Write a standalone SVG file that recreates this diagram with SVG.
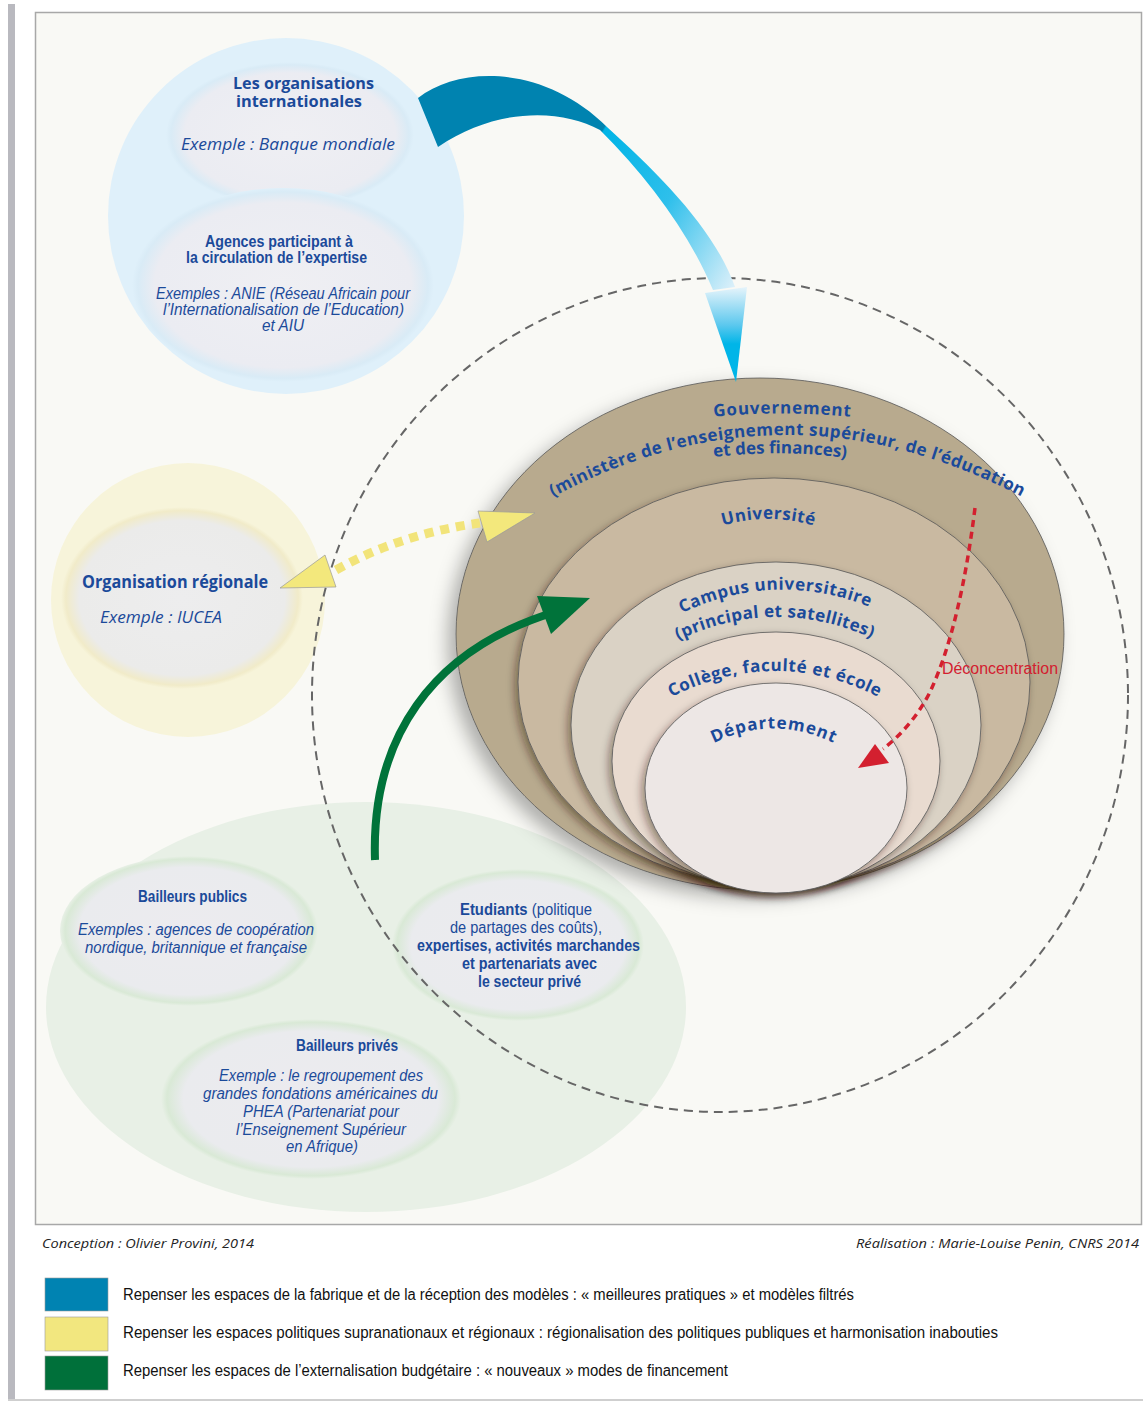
<svg xmlns="http://www.w3.org/2000/svg" width="1143" height="1403" viewBox="0 0 1143 1403">
<defs>
<style>
.lb{font-family:"Open Sans","Liberation Sans",sans-serif;font-weight:bold;fill:#1b4a9a}
.li{font-family:"Open Sans","Liberation Sans",sans-serif;font-style:italic;fill:#1b4a9a}
.cb{font-family:"Liberation Sans",Arial,sans-serif;font-weight:bold;fill:#1b4a9a;font-size:16px}
.ci{font-family:"Liberation Sans",Arial,sans-serif;font-style:italic;fill:#1b4a9a;font-size:16px}
.cr{font-family:"Liberation Sans",Arial,sans-serif;fill:#1b4a9a;font-size:16px}
.arc{font-family:"Open Sans","Liberation Sans",sans-serif;font-weight:bold;fill:#1b4a9a;font-size:17px}
.leg{font-family:"Liberation Sans",Arial,sans-serif;font-size:16px;fill:#111}
.foot{font-family:"Open Sans","Liberation Sans",sans-serif;font-style:italic;font-size:13px;fill:#222}
.bowl{stroke:#555;stroke-width:0.8}
</style>
<radialGradient id="gBlueIn" cx="50%" cy="50%" r="50%">
<stop offset="0" stop-color="#efeff3"/><stop offset="0.85" stop-color="#ebecf2"/><stop offset="0.96" stop-color="#d9ebf6"/><stop offset="1" stop-color="#dff0fa"/>
</radialGradient>
<radialGradient id="gYelIn" cx="50%" cy="50%" r="50%">
<stop offset="0" stop-color="#ededee"/><stop offset="0.85" stop-color="#ebebea"/><stop offset="0.96" stop-color="#f1ebc9"/><stop offset="1" stop-color="#f7f4da"/>
</radialGradient>
<radialGradient id="gGrnIn" cx="50%" cy="50%" r="50%">
<stop offset="0" stop-color="#ecebef"/><stop offset="0.85" stop-color="#eaebee"/><stop offset="0.96" stop-color="#d9e9d6"/><stop offset="1" stop-color="#e8f0e6"/>
</radialGradient>
<linearGradient id="gRibbon" gradientUnits="userSpaceOnUse" x1="418" y1="98" x2="735" y2="290">
<stop offset="0" stop-color="#0083b0"/><stop offset="0.47" stop-color="#0083b0"/><stop offset="0.475" stop-color="#00b4e6"/><stop offset="0.72" stop-color="#2ebfeb"/><stop offset="1" stop-color="#e0f1fa"/>
</linearGradient>
<linearGradient id="gHead" gradientUnits="userSpaceOnUse" x1="0" y1="287" x2="0" y2="382">
<stop offset="0" stop-color="#e6f4fb"/><stop offset="0.4" stop-color="#5cc8ee"/><stop offset="0.6" stop-color="#00b5e8"/><stop offset="1" stop-color="#00b5e8"/>
</linearGradient>
<filter id="shOuter" x="-20%" y="-20%" width="140%" height="150%">
<feDropShadow dx="-8" dy="8" stdDeviation="9" flood-color="#000" flood-opacity="0.3"/>
</filter>
<filter id="shIn" x="-20%" y="-20%" width="140%" height="150%">
<feDropShadow dx="-3" dy="4" stdDeviation="4" flood-color="#2a1e10" flood-opacity="0.45"/>
</filter>
<path id="pGouv" d="M680,421 Q782,406 885,421"/>
<path id="pMin" d="M540,504 Q785,366 1035,504"/>
<path id="pFin" d="M700,459 Q780,447 860,460"/>
<path id="pUniv" d="M715,528 Q768,510 822,528"/>
<path id="pCamp1" d="M668,620 Q775,563 884,613"/>
<path id="pCamp2" d="M670,644 Q775,591 880,642"/>
<path id="pColl" d="M662,702 Q775,640 888,702"/>
<path id="pDep" d="M698,752 Q773,705 850,752"/>
</defs>

<rect x="0" y="0" width="1143" height="1403" fill="#ffffff"/>
<rect x="8" y="4" width="7" height="1396" fill="#b9b9bf"/>
<line x1="8" y1="1400" x2="1143" y2="1400" stroke="#cfcfcf" stroke-width="2"/>
<rect x="35.5" y="12.5" width="1106" height="1212" fill="#f9f9f5" stroke="#a8a8a8" stroke-width="1.5"/>

<g id="node-internationales">
<circle cx="286" cy="216" r="178" fill="#dff0fa"/>
<ellipse cx="290" cy="135" rx="124" ry="73" fill="url(#gBlueIn)"/>
<ellipse cx="283" cy="285" rx="151" ry="97" fill="url(#gBlueIn)"/>
<text class="lb" font-size="16" x="303.5" y="89" text-anchor="middle" textLength="141" lengthAdjust="spacingAndGlyphs">Les organisations</text>
<text class="lb" font-size="16" x="299" y="107" text-anchor="middle" textLength="126" lengthAdjust="spacingAndGlyphs">internationales</text>
<text class="li" font-size="16.5" x="288" y="150" text-anchor="middle" textLength="214" lengthAdjust="spacingAndGlyphs">Exemple :  Banque mondiale</text>
<text class="cb" x="279" y="247" text-anchor="middle" textLength="148" lengthAdjust="spacingAndGlyphs">Agences participant à</text>
<text class="cb" x="276.5" y="263" text-anchor="middle" textLength="181" lengthAdjust="spacingAndGlyphs">la circulation de l’expertise</text>
<text class="ci" x="283" y="299" text-anchor="middle" textLength="254" lengthAdjust="spacingAndGlyphs">Exemples : ANIE (Réseau Africain pour</text>
<text class="ci" x="283.5" y="315" text-anchor="middle" textLength="241" lengthAdjust="spacingAndGlyphs">l’Internationalisation de l’Education)</text>
<text class="ci" x="283" y="331" text-anchor="middle" textLength="42" lengthAdjust="spacingAndGlyphs">et AIU</text>
</g>

<g id="node-regionale">
<circle cx="188" cy="600" r="137" fill="#f7f4da"/>
<ellipse cx="182" cy="598" rx="121" ry="91" fill="url(#gYelIn)"/>
<text class="lb" font-size="17" x="82" y="588" textLength="186" lengthAdjust="spacingAndGlyphs">Organisation régionale</text>
<text class="li" font-size="16.5" x="100" y="623" textLength="122" lengthAdjust="spacingAndGlyphs">Exemple : IUCEA</text>
</g>

<g id="node-financement">
<ellipse cx="366" cy="1007" rx="320" ry="205" fill="#e8f0e6"/>
<ellipse cx="189" cy="931" rx="129" ry="75" fill="url(#gGrnIn)"/>
<ellipse cx="518" cy="945" rx="126" ry="76" fill="url(#gGrnIn)"/>
<ellipse cx="311" cy="1099" rx="150" ry="80" fill="url(#gGrnIn)"/>
<text class="cb" x="192.5" y="902" text-anchor="middle" textLength="109" lengthAdjust="spacingAndGlyphs">Bailleurs publics</text>
<text class="ci" x="196" y="935" text-anchor="middle" textLength="236" lengthAdjust="spacingAndGlyphs">Exemples :  agences de coopération</text>
<text class="ci" x="196" y="953" text-anchor="middle" textLength="222" lengthAdjust="spacingAndGlyphs">nordique, britannique et française</text>
<text class="cr" x="526" y="915" text-anchor="middle" textLength="132" lengthAdjust="spacingAndGlyphs"><tspan font-weight="bold">Etudiants</tspan> (politique</text>
<text class="cr" x="526" y="933" text-anchor="middle" textLength="152" lengthAdjust="spacingAndGlyphs">de partages des coûts),</text>
<text class="cb" x="528.5" y="951" text-anchor="middle" textLength="223" lengthAdjust="spacingAndGlyphs">expertises, activités marchandes</text>
<text class="cb" x="529.5" y="969" text-anchor="middle" textLength="135" lengthAdjust="spacingAndGlyphs">et partenariats avec</text>
<text class="cb" x="529.5" y="987" text-anchor="middle" textLength="103" lengthAdjust="spacingAndGlyphs">le secteur privé</text>
<text class="cb" x="347" y="1051" text-anchor="middle" textLength="102" lengthAdjust="spacingAndGlyphs">Bailleurs privés</text>
<text class="ci" x="321" y="1081" text-anchor="middle" textLength="204" lengthAdjust="spacingAndGlyphs">Exemple : le regroupement des</text>
<text class="ci" x="320.5" y="1099" text-anchor="middle" textLength="235" lengthAdjust="spacingAndGlyphs">grandes fondations américaines du</text>
<text class="ci" x="321" y="1117" text-anchor="middle" textLength="156" lengthAdjust="spacingAndGlyphs">PHEA (Partenariat pour</text>
<text class="ci" x="321" y="1135" text-anchor="middle" textLength="170" lengthAdjust="spacingAndGlyphs">l’Enseignement Supérieur</text>
<text class="ci" x="322" y="1152" text-anchor="middle" textLength="72" lengthAdjust="spacingAndGlyphs">en Afrique)</text>
</g>

<g id="node-espace-national">
<ellipse cx="720" cy="695" rx="408" ry="417" fill="none" stroke="#666" stroke-width="2" stroke-dasharray="9 6"/>
</g>

<g id="node-gouvernement">
<ellipse class="bowl" cx="760" cy="634" rx="304" ry="256" fill="#b8aa8e" filter="url(#shOuter)"/>
<text class="arc" font-size="18.5" letter-spacing="0.8"><textPath href="#pGouv" startOffset="50%" text-anchor="middle">Gouvernement</textPath></text>
<text class="arc" font-size="17.5" letter-spacing="0.5"><textPath href="#pMin" startOffset="50%" text-anchor="middle">(ministère de l’enseignement supérieur, de l’éducation</textPath></text>
<text class="arc" font-size="17"><textPath href="#pFin" startOffset="50%" text-anchor="middle">et des finances)</textPath></text>
</g>
<g id="node-universite">
<ellipse class="bowl" cx="774" cy="682" rx="256" ry="204" fill="#c9b9a1" filter="url(#shIn)"/>
<text class="arc" font-size="16.5" letter-spacing="0.5"><textPath href="#pUniv" startOffset="50%" text-anchor="middle">Université</textPath></text>
</g>
<g id="node-campus">
<ellipse class="bowl" cx="776" cy="725" rx="205" ry="163" fill="#dad2c5" filter="url(#shIn)"/>
<text class="arc" letter-spacing="0.6"><textPath href="#pCamp1" startOffset="50%" text-anchor="middle">Campus universitaire</textPath></text>
<text class="arc" letter-spacing="0.4"><textPath href="#pCamp2" startOffset="50%" text-anchor="middle">(principal et satellites)</textPath></text>
</g>
<g id="node-college">
<ellipse class="bowl" cx="776" cy="761" rx="164" ry="129" fill="#e9dbd0" filter="url(#shIn)"/>
<text class="arc" letter-spacing="0.6"><textPath href="#pColl" startOffset="50%" text-anchor="middle">Collège, faculté et école</textPath></text>
</g>
<g id="node-departement">
<ellipse class="bowl" cx="776" cy="788" rx="131" ry="105" fill="#ede7e5" filter="url(#shIn)"/>
<text class="arc" letter-spacing="1"><textPath href="#pDep" startOffset="50%" text-anchor="middle">Département</textPath></text>
</g>

<g id="connectors">
<path d="M418,98 C460,65 545,65 607,127 C660,175 715,230 735,287 L713,290 C690,235 650,180 600,130 C560,108 495,108 438,147 Z" fill="url(#gRibbon)"/>
<polygon points="705,293 747,287 736,382" fill="url(#gHead)"/>
<path d="M336,570 Q400,534 480,523" fill="none" stroke="#f2e47a" stroke-width="9" stroke-dasharray="9 7"/>
<polygon points="280,588 325,555 336,587" fill="#f3e87c" stroke="#999" stroke-width="0.7"/>
<polygon points="478,511 535,513 487,542" fill="#f3e87c" stroke="#999" stroke-width="0.7"/>
<path d="M375,860 C371,740 430,650 555,612" fill="none" stroke="#00733a" stroke-width="8"/>
<polygon points="537,596 590,598 551,634" fill="#00733a"/>
<path d="M975,508 C966,580 952,645 930,692 C918,716 900,736 883,749" fill="none" stroke="#d3202f" stroke-width="3.5" stroke-dasharray="7 5"/>
<polygon points="858,768 875,744 889,763" fill="#d3202f"/>
<text x="942" y="674" font-family="Liberation Sans, Arial, sans-serif" font-size="16" fill="#d3202f" textLength="116" lengthAdjust="spacingAndGlyphs">Déconcentration</text>
</g>

<g id="footer">
<text class="foot" x="42" y="1248" textLength="212" lengthAdjust="spacingAndGlyphs">Conception : Olivier Provini, 2014</text>
<text class="foot" x="1139" y="1248" text-anchor="end" textLength="283" lengthAdjust="spacingAndGlyphs">Réalisation : Marie-Louise Penin, CNRS 2014</text>
</g>

<g id="legend">
<rect x="45" y="1278" width="63" height="33" fill="#0083b2" stroke="#9a9a9a" stroke-width="0.6"/>
<rect x="45" y="1317" width="63" height="34" fill="#f2e77f" stroke="#9a9a9a" stroke-width="0.6"/>
<rect x="45" y="1356" width="63" height="34" fill="#00703a" stroke="#9a9a9a" stroke-width="0.6"/>
<text class="leg" x="123" y="1300" textLength="731" lengthAdjust="spacingAndGlyphs">Repenser les espaces de la fabrique et de la réception des modèles : « meilleures pratiques » et modèles filtrés</text>
<text class="leg" x="123" y="1338" textLength="875" lengthAdjust="spacingAndGlyphs">Repenser les espaces politiques supranationaux et régionaux : régionalisation des politiques publiques et harmonisation  inabouties</text>
<text class="leg" x="123" y="1376" textLength="605" lengthAdjust="spacingAndGlyphs">Repenser les espaces de l’externalisation budgétaire : « nouveaux » modes de financement</text>
</g>
</svg>
